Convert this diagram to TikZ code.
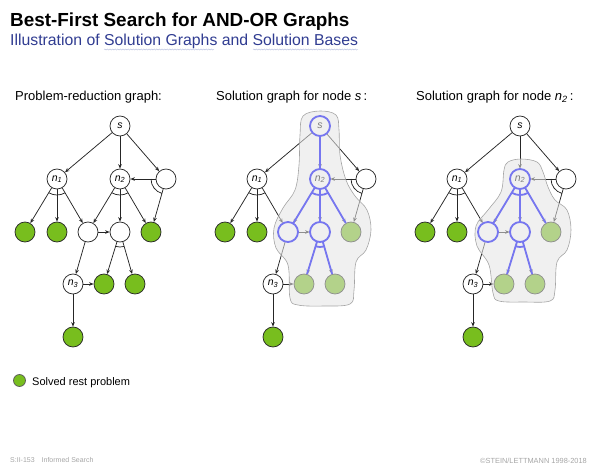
\documentclass[tikz,border=0pt]{standalone}
\usepackage{fontspec}
\setmainfont{Liberation Sans}
\usetikzlibrary{arrows.meta,decorations.pathmorphing}
\definecolor{solved}{RGB}{120,190,30}
\definecolor{hlblue}{RGB}{118,118,240}
\definecolor{subblue}{RGB}{48,60,145}
\definecolor{blobfill}{RGB}{228,228,228}
\definecolor{blobline}{RGB}{165,165,165}
\definecolor{footgray}{RGB}{165,165,165}
\definecolor{wavecol}{RGB}{180,188,220}
\tikzset{
  onode/.style={circle, draw=black!85, line width=0.75pt, minimum size=20pt, inner sep=0pt, fill=white},
  snode/.style={onode, fill=solved},
  edge/.style={draw=black!85, line width=0.75pt, -{Stealth[length=4.5pt,width=3.6pt]}},
  andline/.style={draw=black!85, line width=0.75pt},
  blob/.style={fill=blobfill, fill opacity=0.55, draw=blobline, line width=0.6pt},
  hlnode/.style={circle, draw=hlblue, line width=1.8pt, minimum size=20pt, inner sep=0pt},
  hledge/.style={draw=hlblue, line width=1.8pt},
  wavy/.style={draw=wavecol, line width=0.4pt, decorate, decoration={snake, amplitude=0.55pt, segment length=2.6pt}},
  txt/.style={inner sep=0pt, anchor=base west},
}
\newcommand\nlab[1]{\fontsize{10.5}{10.5}\selectfont\itshape #1}
\newcommand\andarc[5]{\draw[#5] ([shift={(#2:#4)}]#1.center) arc[start angle=#2, end angle=#3, radius=#4];}
\newcommand\basegraph[1]{%
  \node[onode] (#1s)  at (120,-126) {\nlab{s}};
  \node[onode] (#1n1) at (57,-179)  {\nlab{n\textsubscript{1}}};
  \node[onode] (#1n2) at (120,-179) {\nlab{n\textsubscript{2}}};
  \node[onode] (#1c)  at (166,-179) {};
  \node[snode] (#1g1) at (25,-232)  {};
  \node[snode] (#1g2) at (57,-232)  {};
  \node[onode] (#1a)  at (88,-232)  {};
  \node[onode] (#1b)  at (120,-232) {};
  \node[snode] (#1g3) at (151,-232) {};
  \node[onode] (#1n3) at (73,-284)  {\nlab{n\textsubscript{3}}};
  \node[snode] (#1g4) at (104,-284) {};
  \node[snode] (#1g5) at (135,-284) {};
  \node[snode] (#1g6) at (73,-337)  {};
  \draw[edge] (#1s) -- (#1n1);
  \draw[edge] (#1s) -- (#1n2);
  \draw[edge] (#1s) -- (#1c);
  \draw[edge] (#1c) -- (#1n2);
  \draw[edge] (#1c) -- (#1g3);
  \draw[edge] (#1n1) -- (#1g1);
  \draw[edge] (#1n1) -- (#1g2);
  \draw[edge] (#1n1) -- (#1a);
  \draw[edge] (#1n2) -- (#1a);
  \draw[edge] (#1n2) -- (#1b);
  \draw[edge] (#1n2) -- (#1g3);
  \draw[edge] (#1a) -- (#1b);
  \draw[edge] (#1a) -- (#1n3);
  \draw[edge] (#1b) -- (#1g4);
  \draw[edge] (#1b) -- (#1g5);
  \draw[edge] (#1n3) -- (#1g4);
  \draw[edge] (#1n3) -- (#1g6);
  \andarc{#1n1}{238.9}{300.3}{16pt}{andline}
  \andarc{#1n2}{238.9}{300.3}{16pt}{andline}
  \andarc{#1b}{252.9}{286.1}{15pt}{andline}
  \andarc{#1c}{180}{254.2}{15pt}{andline}
}
\newcommand\hlgraph[1]{%
  \node[hlnode] (#1hn2) at (#1n2) {};
  \node[hlnode] (#1ha) at (#1a) {};
  \node[hlnode] (#1hb) at (#1b) {};
  \draw[hledge] (#1n2) -- (#1a);
  \draw[hledge] (#1n2) -- (#1b);
  \draw[hledge] (#1n2) -- (#1g3);
  \draw[hledge] (#1b) -- (#1g4);
  \draw[hledge] (#1b) -- (#1g5);
  \andarc{#1n2}{238.9}{300.3}{16pt}{hledge}
  \andarc{#1b}{252.9}{286.1}{15pt}{hledge}
}
\begin{document}
\begin{tikzpicture}[x=1pt,y=1pt]
\useasboundingbox (0,0) rectangle (600,-467);
% title
\node[txt] (title) at (10,-26) {\fontsize{18.9}{20}\selectfont\bfseries Best-First Search for AND-OR Graphs};
\node[txt, text=subblue] (subtitle) at (10,-45) {\fontsize{15.8}{17}\selectfont Illustration of Solution Graphs and Solution Bases};
\coordinate (w1a) at (104,-49.5); \coordinate (w1b) at (214,-49.5);
\coordinate (w2a) at (253,-49.5); \coordinate (w2b) at (358,-49.5);
\draw[wavy] (w1a) -- (w1b);
\draw[wavy] (w2a) -- (w2b);
% headings
\node[txt] (h1) at (15,-100) {\fontsize{13}{14}\selectfont Problem-reduction graph:};
\node[txt] (h2) at (216,-100) {\fontsize{13}{14}\selectfont Solution graph for node \textit{s}\,:};
\node[txt] (h3) at (416,-100) {\fontsize{13}{14}\selectfont Solution graph for node \textit{n}\textsubscript{\textit{2}}\,:};
% left graph
\begin{scope}
  \basegraph{L}
\end{scope}
% middle graph
\begin{scope}[xshift=200pt]
  \basegraph{M}
  \draw[blob] plot[smooth cycle, tension=0.6] coordinates {(120,-111) (136,-115) (139,-130) (140,-155) (146,-180) (155,-196) (167,-210) (171,-230) (166,-250) (156,-262) (154,-290) (150,-304) (124,-306) (98,-305) (90,-298) (88,-265) (76,-248) (74,-228) (83,-208) (95,-190) (99,-165) (100,-135) (103,-116)};
  \node[hlnode] (Mhs) at (Ms) {};
  \draw[hledge] (Ms) -- (Mn2);
  \hlgraph{M}
\end{scope}
% right graph
\begin{scope}[xshift=400pt]
  \basegraph{R}
  \draw[blob] plot[smooth cycle, tension=0.6] coordinates {(121,-159) (137,-162) (143,-172) (148,-187) (155,-200) (167,-210) (171,-230) (167,-250) (157,-262) (155,-290) (150,-301) (124,-302) (99,-301) (93,-293) (89,-265) (77,-246) (76,-226) (88,-210) (101,-192) (104,-170) (108,-162)};
  \hlgraph{R}
\end{scope}
% legend
\node[snode, minimum size=12pt, draw=black!65] (legdot) at (19.5,-380.5) {};
\node[txt] (legtext) at (32,-385) {\fontsize{11}{12}\selectfont Solved rest problem};
% footer
\node[txt, text=footgray] (foot1) at (10,-462.5) {\fontsize{7}{8}\selectfont S:II-153\hspace{7pt}Informed Search};
\node[inner sep=0pt, anchor=base east, text=footgray] (foot2) at (587,-463) {\fontsize{7.4}{8}\selectfont \textcopyright STEIN/LETTMANN 1998-2018};
\end{tikzpicture}
\end{document}
